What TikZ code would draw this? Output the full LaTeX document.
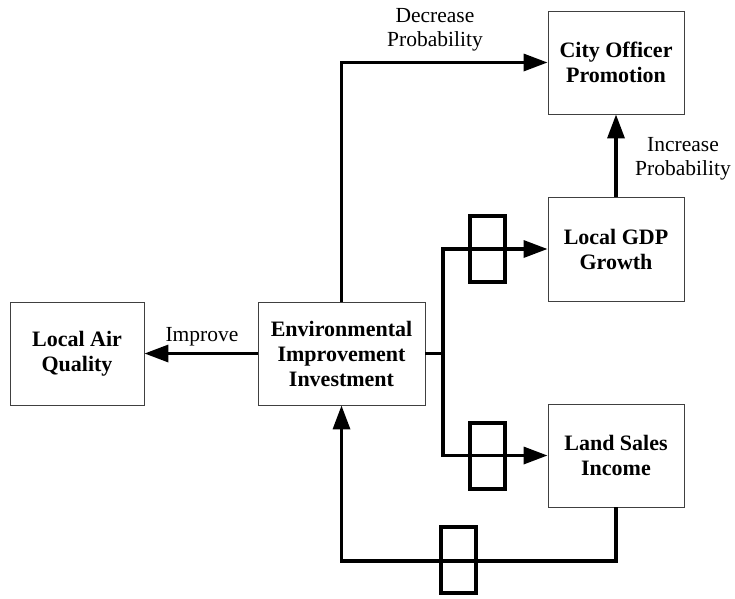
\documentclass[tikz,border=0pt]{standalone}
\usepackage{fontspec}
\setmainfont{Liberation Serif}
\usetikzlibrary{arrows.meta}
\begin{document}
\begin{tikzpicture}[x=1pt,y=-1pt,
  box/.style={draw=black!75,line width=0.9pt,minimum width=#1,align=center,inner sep=0pt,
    font=\fontsize{22}{25}\selectfont\bfseries},
  box/.default=136pt,
  arr/.style={line width=3.4pt,-{Triangle[length=24pt,width=17pt]}},
  ln/.style={line width=3.4pt},
  delay/.style={draw,line width=4pt,minimum width=35pt,minimum height=66pt,inner sep=0pt},
  lbl/.style={align=center,font=\fontsize{21.5}{24}\selectfont}]
\useasboundingbox (0,0) rectangle (735,598);
\node[box=134pt,minimum height=103pt] (air) at (77,353.5) {Local Air\\Quality};
\node[box=167pt,minimum height=103pt] (env) at (341.5,353.5) {Environmental\\Improvement\\Investment};
\node[box,minimum height=103pt] (city) at (616,62.5) {City Officer\\Promotion};
\node[box,minimum height=104pt] (gdp) at (616,249) {Local GDP\\Growth};
\node[box,minimum height=103pt] (land) at (616,455.5) {Land Sales\\Income};
\coordinate (j) at (443,353.5);
\coordinate (b) at (616,561);
\draw[arr] (env.west) -- (air.east);
\draw[arr] (env.north) |- (city.west);
\draw[arr] (gdp.north) -- (city.south);
\draw[ln] (env.east) -- (j);
\draw[arr] (j) |- (gdp.west);
\draw[arr] (j) |- (land.west);
\draw[arr,line cap=butt] (land.south) -- (b) -| (env.south);
\node[delay] (d1) at (487,249) {};
\node[delay] (d2) at (487,456) {};
\node[delay] (d3) at (458,560) {};
\node[lbl] (limp) at (202,337) {Improve};
\node[lbl] (ldec) at (435,30) {Decrease\\Probability};
\node[lbl] (linc) at (683,158.5) {Increase\\Probability};
\end{tikzpicture}
\end{document}
